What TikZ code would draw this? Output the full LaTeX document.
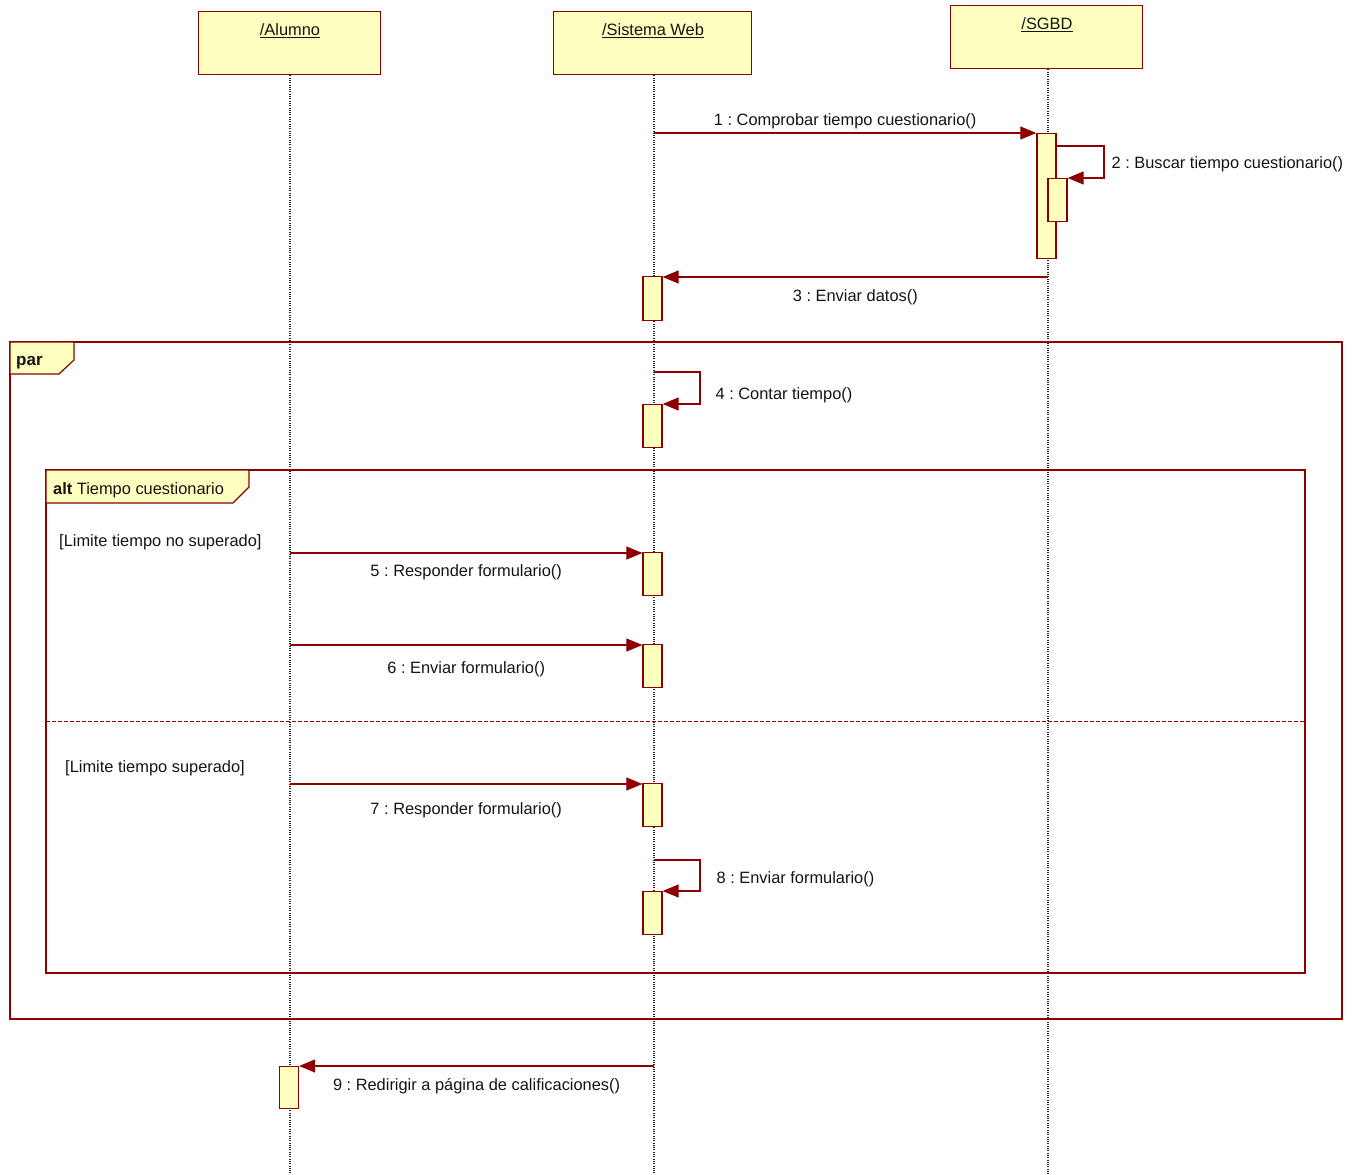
\documentclass[tikz,border=0pt]{standalone}
\usepackage{fontspec}
\setmainfont{Liberation Sans}
\usetikzlibrary{arrows.meta}
\definecolor{umlred}{RGB}{140,0,0}
\definecolor{umlfill}{RGB}{255,255,192}
\definecolor{umltext}{RGB}{20,20,20}
\frenchspacing
\begin{document}
\begin{tikzpicture}[x=1pt,y=-1pt,
  font=\fontsize{16.4}{19}\selectfont, text=umltext,
  headbox/.style={draw=umlred, fill=umlfill, line width=1.3pt, anchor=north west, inner sep=0pt},
  lifeline/.style={draw=black!85, line width=1.1pt, dash pattern=on 1pt off 1.3pt},
  act/.style={draw=umlred, fill=umlfill, line width=1.3pt, minimum width=19pt, inner sep=0pt, anchor=north},
  msg/.style={draw=umlred, line width=1.2pt, -{Triangle[length=16pt,width=13pt]}},
  frame/.style={draw=umlred, line width=1.2pt},
  tab/.style={draw=umlred, fill=umlfill, line width=1.2pt},
  lbl/.style={inner sep=0pt, anchor=center, yshift=-2pt},
  slbl/.style={inner sep=0pt, anchor=west, yshift=-2pt}
]
\useasboundingbox (0,0) rectangle (1353,1175);

% lifeline heads
\node[headbox, minimum width=182pt, minimum height=63pt] (alumno) at (198,11) {};
\node[lbl] (alumnoname) at (290,29) {\underline{/Alumno}};
\node[headbox, minimum width=198pt, minimum height=63pt] (web) at (553,11) {};
\node[lbl] (webname) at (653,29) {\underline{/Sistema Web}};
\node[headbox, minimum width=192pt, minimum height=63pt] (sgbd) at (950,5) {};
\node[lbl] (sgbdname) at (1047,23) {\underline{/SGBD}};

% lifelines
\coordinate (alumnoEnd) at (290,1175);
\coordinate (webEnd) at (654,1175);
\coordinate (sgbdEnd) at (1048,1175);
\draw[lifeline] (alumno.south -| alumnoEnd) -- (alumnoEnd);
\draw[lifeline] (web.south -| webEnd) -- (webEnd);
\draw[lifeline] (sgbd.south -| sgbdEnd) -- (sgbdEnd);

% combined fragments
\draw[frame] (10,342) rectangle (1342,1019);
\draw[tab] (10,342) -- (74,342) -- (74,360) -- (59,374) -- (10,374) -- cycle;
\node[slbl, font=\fontsize{17}{20}\selectfont] (parlbl) at (16,361) {\textbf{par}};

\draw[frame] (46,470) rectangle (1305,973);
\draw[tab] (46,470) -- (249,470) -- (249,487) -- (233,503) -- (46,503) -- cycle;
\node[slbl] (altlbl) at (53,488) {\textbf{alt} Tiempo cuestionario};
\draw[frame, line width=1pt, dash pattern=on 4pt off 2pt] (46,721) -- (1305,721);
\node[slbl] (g1) at (59,540) {[Limite tiempo no superado]};
\node[slbl] (g2) at (65,766) {[Limite tiempo superado]};

% activations
\node[act, minimum height=125pt] (a1) at (1046.5,133) {};
\node[act, minimum height=43pt] (a2) at (1057.5,178) {};
\node[act, minimum height=44pt] (a3) at (652.5,276) {};
\node[act, minimum height=43pt] (a4) at (652.5,404) {};
\node[act, minimum height=43pt] (a5) at (652.5,552) {};
\node[act, minimum height=43pt] (a6) at (652.5,644) {};
\node[act, minimum height=43pt] (a7) at (652.5,783) {};
\node[act, minimum height=43pt] (a8) at (652.5,891) {};
\node[act, minimum height=42pt] (a9) at (289,1066) {};

% message start points on the lifelines
\coordinate (m1) at (654,133);
\coordinate (m2) at (1057,146);
\coordinate (m3) at (1048,277);
\coordinate (m4) at (654,372);
\coordinate (m5) at (290,553);
\coordinate (m6) at (290,645);
\coordinate (m7) at (290,784);
\coordinate (m8) at (654,860);
\coordinate (m9) at (654,1066);

% messages
\draw[msg] (m1) -- (a1.north west) node[midway, lbl, yshift=14pt] {1 : Comprobar tiempo cuestionario()};
\draw[msg] (m2) -- ++(47,0) |- (a2.north east) node[pos=0.25, slbl, xshift=7pt] {2 : Buscar tiempo cuestionario()};
\draw[msg] (m3) -- (a3.north east |- m3) node[midway, lbl, yshift=-18pt] {3 : Enviar datos()};
\draw[msg] (m4) -- ++(46,0) |- (a4.north east) node[pos=0.25, slbl, xshift=15pt, yshift=-5pt] {4 : Contar tiempo()};
\draw[msg] (m5) -- (a5.north west |- m5) node[midway, lbl, yshift=-17pt] {5 : Responder formulario()};
\draw[msg] (m6) -- (a6.north west |- m6) node[midway, lbl, yshift=-22pt] {6 : Enviar formulario()};
\draw[msg] (m7) -- (a7.north west |- m7) node[midway, lbl, yshift=-24pt] {7 : Responder formulario()};
\draw[msg] (m8) -- ++(46,0) |- (a8.north east) node[pos=0.25, slbl, xshift=16pt, yshift=-2pt] {8 : Enviar formulario()};
\draw[msg] (m9) -- (a9.north east) node[midway, lbl, yshift=-18pt] {9 : Redirigir a página de calificaciones()};
\end{tikzpicture}
\end{document}
